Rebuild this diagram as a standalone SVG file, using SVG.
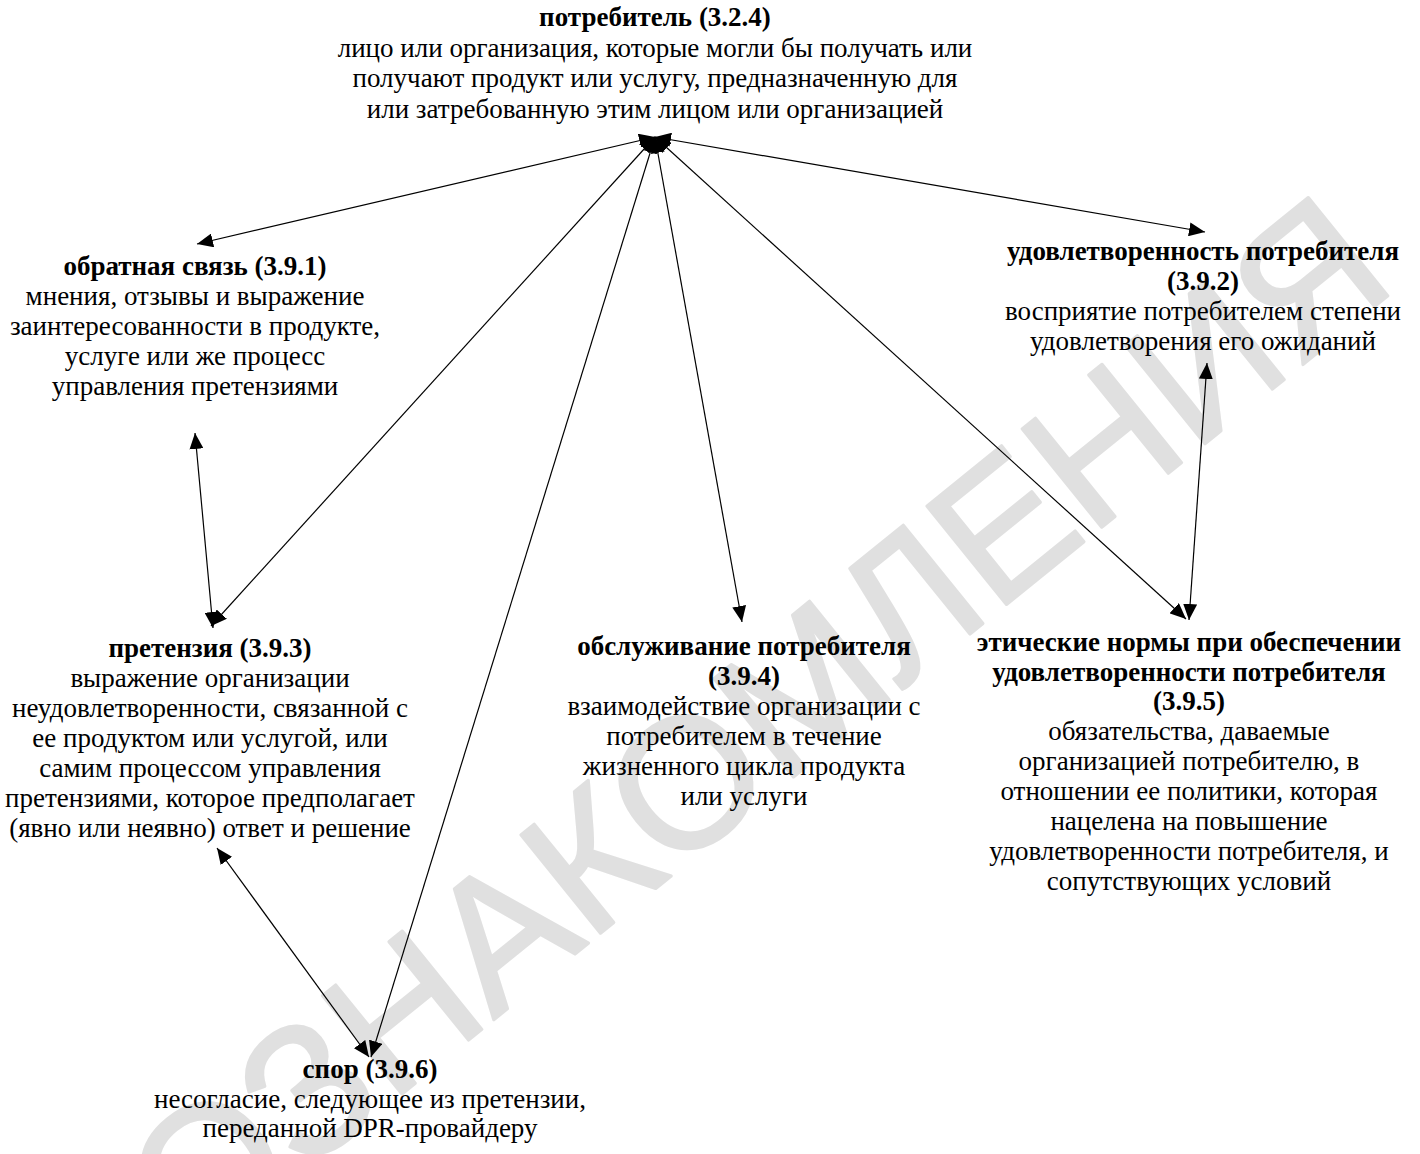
<svg xmlns="http://www.w3.org/2000/svg" width="1420" height="1154" viewBox="0 0 1420 1154">
<defs>
<style>
text{font-family:"Liberation Serif","Times New Roman",serif;font-size:27px;fill:#000;text-anchor:middle}
.b{font-weight:bold}
.wm{font-family:"Liberation Sans",Arial,sans-serif;font-size:184px;fill:#e0e0e0;stroke:#e0e0e0;stroke-width:3;stroke-linejoin:round}
.c line{stroke:#000;stroke-width:1.2;marker-start:url(#ah);marker-end:url(#ah)}
</style>
<marker id="ah" viewBox="0 0 16 14" refX="16" refY="7" markerWidth="16" markerHeight="14" markerUnits="userSpaceOnUse" orient="auto-start-reverse">
<path d="M0,0 L16,7 L0,14 z" fill="#000"/>
</marker>
</defs>
<rect width="1420" height="1154" fill="#fff"/>
<text class="wm" x="796" y="775" transform="rotate(-39 796 775)">ОЗНАКОМЛЕНИЯ</text>
<g id="connectors" class="c">
<line x1="655" y1="137" x2="197" y2="244"/>
<line x1="655" y1="137" x2="1205" y2="232"/>
<line x1="655" y1="137" x2="211" y2="626"/>
<line x1="655" y1="137" x2="371" y2="1057"/>
<line x1="655" y1="137" x2="742" y2="622"/>
<line x1="655" y1="137" x2="1186" y2="619"/>
<line x1="195" y1="433" x2="213" y2="628"/>
<line x1="1207" y1="363" x2="1189" y2="620"/>
<line x1="217" y1="848" x2="369" y2="1057"/>
</g>
<g id="n324">
<text class="b" x="655" y="26">потребитель (3.2.4)</text>
<text x="655" y="57">лицо или организация, которые могли бы получать или</text>
<text x="655" y="87">получают продукт или услугу, предназначенную для</text>
<text x="655" y="118">или затребованную этим лицом или организацией</text>
</g>
<g id="n391">
<text class="b" x="195" y="275">обратная связь (3.9.1)</text>
<text x="195" y="305">мнения, отзывы и выражение</text>
<text x="195" y="335">заинтересованности в продукте,</text>
<text x="195" y="365">услуге или же процесс</text>
<text x="195" y="395">управления претензиями</text>
</g>
<g id="n392">
<text class="b" x="1203" y="260">удовлетворенность потребителя</text>
<text class="b" x="1203" y="290">(3.9.2)</text>
<text x="1203" y="320">восприятие потребителем степени</text>
<text x="1203" y="350">удовлетворения его ожиданий</text>
</g>
<g id="n393">
<text class="b" x="210" y="657">претензия (3.9.3)</text>
<text x="210" y="687">выражение организации</text>
<text x="210" y="717">неудовлетворенности, связанной с</text>
<text x="210" y="747">ее продуктом или услугой, или</text>
<text x="210" y="777">самим процессом управления</text>
<text x="210" y="807">претензиями, которое предполагает</text>
<text x="210" y="837">(явно или неявно) ответ и решение</text>
</g>
<g id="n394">
<text class="b" x="744" y="655">обслуживание потребителя</text>
<text class="b" x="744" y="685">(3.9.4)</text>
<text x="744" y="715">взаимодействие организации с</text>
<text x="744" y="745">потребителем в течение</text>
<text x="744" y="775">жизненного цикла продукта</text>
<text x="744" y="805">или услуги</text>
</g>
<g id="n395">
<text class="b" x="1189" y="651">этические нормы при обеспечении</text>
<text class="b" x="1189" y="681">удовлетворенности потребителя</text>
<text class="b" x="1189" y="710">(3.9.5)</text>
<text x="1189" y="740">обязательства, даваемые</text>
<text x="1189" y="770">организацией потребителю, в</text>
<text x="1189" y="800">отношении ее политики, которая</text>
<text x="1189" y="830">нацелена на повышение</text>
<text x="1189" y="860">удовлетворенности потребителя, и</text>
<text x="1189" y="890">сопутствующих условий</text>
</g>
<g id="n396">
<text class="b" x="370" y="1078">спор (3.9.6)</text>
<text x="370" y="1108">несогласие, следующее из претензии,</text>
<text x="370" y="1137">переданной DPR-провайдеру</text>
</g>
</svg>
